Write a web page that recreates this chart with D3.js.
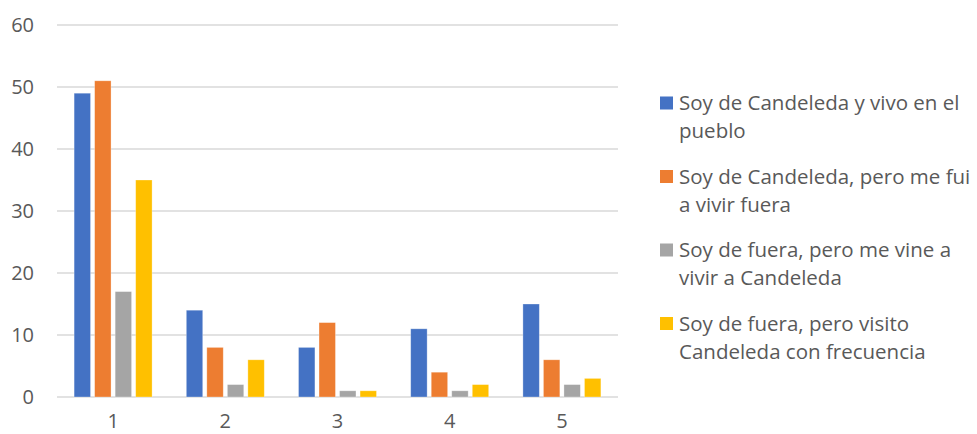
<!DOCTYPE html>
<html>
<head>
<meta charset="utf-8">
<script src="https://cdn.jsdelivr.net/npm/d3@7"></script>
<style>
body{margin:0;background:#fff;}
text{font-family:"Open Sans","Noto Sans",sans-serif;fill:#595959;}
</style>
</head>
<body>
<div class="chart_bar"></div>
<script>
var categories = ["1","2","3","4","5"];
var seriesNames = [
  "Soy de Candeleda y vivo en el pueblo",
  "Soy de Candeleda, pero me fui a vivir fuera",
  "Soy de fuera, pero me vine a vivir a Candeleda",
  "Soy de fuera, pero visito Candeleda con frecuencia"
];
var legendLines = [
  ["Soy de Candeleda y vivo en el","pueblo"],
  ["Soy de Candeleda, pero me fui","a vivir fuera"],
  ["Soy de fuera, pero me vine a","vivir a Candeleda"],
  ["Soy de fuera, pero visito","Candeleda con frecuencia"]
];
var vivoPueblo = [49, 14, 8, 11, 15];
var fuiFuera   = [51, 8, 12, 4, 6];
var vineVivir  = [17, 2, 1, 1, 2];
var visito     = [35, 6, 1, 2, 3];
var yTicks = [0,10,20,30,40,50,60];
var colors = ["#4472C4","#ED7D31","#A5A5A5","#FFC000"];

var allSeries = [vivoPueblo, fuiFuera, vineVivir, visito];

var margin = {top:25, right:359, bottom:37, left:57}
  , width = 977 - margin.left - margin.right
  , height = 434 - margin.top - margin.bottom;

var svg = d3.select(".chart_bar").append("svg")
  .attr("width",977)
  .attr("height",434);
var g = svg.append("g")
  .attr("transform","translate("+margin.left+","+margin.top+")");

var x0 = d3.scaleBand()
  .domain(categories)
  .range([0,width])
  .paddingInner(0.305)
  .paddingOuter(0.1525);
var x1 = d3.scaleBand()
  .domain(d3.range(seriesNames.length))
  .range([0,x0.bandwidth()])
  .paddingInner(0.2);
var y = d3.scaleLinear()
  .domain([0,60])
  .range([height,0]);

// grid
g.selectAll(".grid")
  .data(yTicks)
  .enter().append("line")
  .attr("class","grid")
  .attr("x1",0).attr("x2",width)
  .attr("y1",function(d){return y(d);})
  .attr("y2",function(d){return y(d);})
  .attr("stroke","#d9d9d9")
  .attr("stroke-width",1.5);

var yAxis = g.append("g")
  .call(d3.axisLeft(y).tickValues(yTicks).tickSize(0).tickPadding(23));
yAxis.select(".domain").remove();
yAxis.selectAll("text").style("font-size","20px").attr("fill","#595959");

var xAxis = g.append("g")
  .attr("transform","translate(0,"+height+")")
  .call(d3.axisBottom(x0).tickSize(0).tickPadding(17));
xAxis.select(".domain").remove();
xAxis.selectAll("text").style("font-size","20px").attr("fill","#595959");

var groups = g.selectAll(".cat")
  .data(categories)
  .enter().append("g")
  .attr("class","cat")
  .attr("transform",function(d){return "translate("+x0(d)+",0)";});

groups.selectAll("rect")
  .data(function(d,i){return allSeries.map(function(s,j){return {s:j,v:s[i]};});})
  .enter().append("rect")
  .attr("x",function(d){return x1(d.s);})
  .attr("width",x1.bandwidth())
  .attr("y",function(d){return y(d.v);})
  .attr("height",function(d){return height - y(d.v);})
  .attr("fill",function(d){return colors[d.s];})
  .attr("stroke","#fff")
  .attr("stroke-opacity",0.4)
  .attr("stroke-width",0.75);

// legend
var legend = svg.append("g").attr("transform","translate(660,0)");
var items = legend.selectAll(".item")
  .data(legendLines)
  .enter().append("g")
  .attr("class","item")
  .attr("transform",function(d,i){return "translate(0,"+(103+i*73.5)+")";});
items.append("rect")
  .attr("x",0).attr("y",-6.5)
  .attr("width",13).attr("height",13)
  .attr("fill",function(d,i){return colors[i];});
items.each(function(lines){
  var t = d3.select(this).append("text")
    .attr("x",19)
    .style("font-size","20.5px");
  lines.forEach(function(l,k){
    t.append("tspan").attr("x",19).attr("y",k*28).attr("dy","0.35em").text(l);
  });
});
</script>
</body>
</html>
